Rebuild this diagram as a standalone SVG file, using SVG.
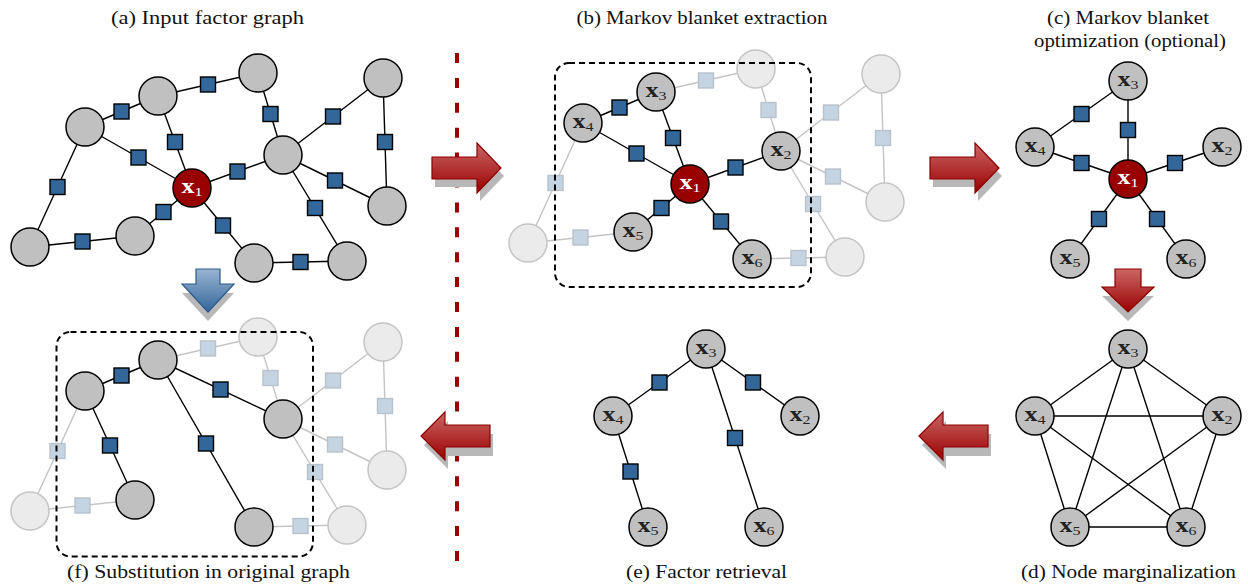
<svg xmlns="http://www.w3.org/2000/svg" width="1248" height="585" viewBox="0 0 1248 585">
<style>
.e{stroke:#000;stroke-width:1.4;fill:none}
.ef{stroke:#c4c4c4;stroke-width:1.4;fill:none}
.n{fill:#c0c0c0;stroke:#000;stroke-width:1.5}
.nr{fill:#990000;stroke:#000;stroke-width:1.5}
.nf{fill:#ebebeb;stroke:#c4c4c4;stroke-width:1.5}
.f{fill:#336699;stroke:#000;stroke-width:1.4}
.ff{fill:#c5d4e2;stroke:#b8c2cc;stroke-width:1.4}
.lbl{font-family:"Liberation Serif",serif;font-weight:bold;font-size:21px;text-anchor:middle;fill:#222}
.lw{fill:#fff}
.sub{font-size:13px;font-weight:normal}
.title{font-family:"Liberation Serif",serif;font-size:18px;text-anchor:middle;fill:#111}
.box{fill:none;stroke:#000;stroke-width:2;stroke-dasharray:6 4}
.sh{fill:#b8b8b8}
.ar{fill:url(#gr);stroke:#8b0000;stroke-width:1.2}
.ab{fill:url(#gb);stroke:#2d5a8a;stroke-width:1.2}
</style>
<defs>
<linearGradient id="gr" x1="0" y1="0" x2="0" y2="1"><stop offset="0" stop-color="#cc6666"/><stop offset="1" stop-color="#990000"/></linearGradient>
<linearGradient id="gb" x1="0" y1="0" x2="0" y2="1"><stop offset="0" stop-color="#9ab4d2"/><stop offset="1" stop-color="#33669a"/></linearGradient>
</defs>
<rect width="1248" height="585" fill="#fff"/>

<!-- titles -->
<text class="title" x="207.5" y="24" textLength="193" lengthAdjust="spacingAndGlyphs">(a) Input factor graph</text>
<text class="title" x="702" y="24" textLength="251" lengthAdjust="spacingAndGlyphs">(b) Markov blanket extraction</text>
<text class="title" x="1128" y="24" textLength="162" lengthAdjust="spacingAndGlyphs">(c) Markov blanket</text>
<text class="title" x="1130" y="47" textLength="192" lengthAdjust="spacingAndGlyphs">optimization (optional)</text>
<text class="title" x="1128.5" y="578" textLength="215" lengthAdjust="spacingAndGlyphs">(d) Node marginalization</text>
<text class="title" x="706.5" y="578" textLength="161" lengthAdjust="spacingAndGlyphs">(e) Factor retrieval</text>
<text class="title" x="208.5" y="578" textLength="283" lengthAdjust="spacingAndGlyphs">(f) Substitution in original graph</text>

<!-- separator -->
<line x1="457" y1="53" x2="457" y2="561" stroke="#990000" stroke-width="4" stroke-dasharray="10 14.9"/>

<!-- connectors -->
<g id="connectors">
 <g id="conn-a">
  <line class="e" x1="85" y1="127" x2="158" y2="96"/>
  <line class="e" x1="158" y1="96" x2="258" y2="73"/>
  <line class="e" x1="258" y1="73" x2="283" y2="155"/>
  <line class="e" x1="383" y1="78" x2="283" y2="155"/>
  <line class="e" x1="383" y1="78" x2="387" y2="206"/>
  <line class="e" x1="283" y1="155" x2="387" y2="206"/>
  <line class="e" x1="283" y1="155" x2="347" y2="261"/>
  <line class="e" x1="158" y1="96" x2="192" y2="188"/>
  <line class="e" x1="85" y1="127" x2="192" y2="188"/>
  <line class="e" x1="192" y1="188" x2="283" y2="155"/>
  <line class="e" x1="85" y1="127" x2="30" y2="247"/>
  <line class="e" x1="30" y1="247" x2="135" y2="236"/>
  <line class="e" x1="135" y1="236" x2="192" y2="188"/>
  <line class="e" x1="192" y1="188" x2="254" y2="263"/>
  <line class="e" x1="254" y1="263" x2="347" y2="261"/>
 </g>
 <g id="conn-b" transform="translate(498,-4)">
  <line class="ef" x1="158" y1="96" x2="258" y2="73"/>
  <line class="ef" x1="258" y1="73" x2="283" y2="155"/>
  <line class="ef" x1="383" y1="78" x2="283" y2="155"/>
  <line class="ef" x1="383" y1="78" x2="387" y2="206"/>
  <line class="ef" x1="283" y1="155" x2="387" y2="206"/>
  <line class="ef" x1="283" y1="155" x2="347" y2="261"/>
  <line class="ef" x1="85" y1="127" x2="30" y2="247"/>
  <line class="ef" x1="30" y1="247" x2="135" y2="236"/>
  <line class="ef" x1="254" y1="263" x2="347" y2="261"/>
  <line class="e" x1="85" y1="127" x2="158" y2="96"/>
  <line class="e" x1="158" y1="96" x2="192" y2="188"/>
  <line class="e" x1="85" y1="127" x2="192" y2="188"/>
  <line class="e" x1="192" y1="188" x2="283" y2="155"/>
  <line class="e" x1="135" y1="236" x2="192" y2="188"/>
  <line class="e" x1="192" y1="188" x2="254" y2="263"/>
 </g>
 <g id="conn-f" transform="translate(0,264)">
  <line class="ef" x1="158" y1="96" x2="258" y2="73"/>
  <line class="ef" x1="258" y1="73" x2="283" y2="155"/>
  <line class="ef" x1="383" y1="78" x2="283" y2="155"/>
  <line class="ef" x1="383" y1="78" x2="387" y2="206"/>
  <line class="ef" x1="283" y1="155" x2="387" y2="206"/>
  <line class="ef" x1="283" y1="155" x2="347" y2="261"/>
  <line class="ef" x1="85" y1="127" x2="30" y2="247"/>
  <line class="ef" x1="30" y1="247" x2="135" y2="236"/>
  <line class="ef" x1="254" y1="263" x2="347" y2="261"/>
  <line class="e" x1="85" y1="127" x2="158" y2="96"/>
  <line class="e" x1="85" y1="127" x2="135" y2="236"/>
  <line class="e" x1="158" y1="96" x2="254" y2="263"/>
  <line class="e" x1="158" y1="96" x2="283" y2="155"/>
 </g>
 <g id="conn-c">
  <line class="e" x1="1035" y1="147" x2="1128" y2="81"/>
  <line class="e" x1="1128" y1="81" x2="1128" y2="179"/>
  <line class="e" x1="1035" y1="147" x2="1128" y2="179"/>
  <line class="e" x1="1222" y1="147" x2="1128" y2="179"/>
  <line class="e" x1="1070" y1="259" x2="1128" y2="179"/>
  <line class="e" x1="1186" y1="259" x2="1128" y2="179"/>
 </g>
 <g id="conn-d">
  <line class="e" x1="1128" y1="349" x2="1035" y2="416"/>
  <line class="e" x1="1128" y1="349" x2="1222" y2="416"/>
  <line class="e" x1="1128" y1="349" x2="1070" y2="527"/>
  <line class="e" x1="1128" y1="349" x2="1186" y2="527"/>
  <line class="e" x1="1035" y1="416" x2="1222" y2="416"/>
  <line class="e" x1="1035" y1="416" x2="1070" y2="527"/>
  <line class="e" x1="1035" y1="416" x2="1186" y2="527"/>
  <line class="e" x1="1222" y1="416" x2="1070" y2="527"/>
  <line class="e" x1="1222" y1="416" x2="1186" y2="527"/>
  <line class="e" x1="1070" y1="527" x2="1186" y2="527"/>
 </g>
 <g id="conn-e">
  <line class="e" x1="706" y1="349" x2="613" y2="416"/>
  <line class="e" x1="706" y1="349" x2="800" y2="416"/>
  <line class="e" x1="706" y1="349" x2="764" y2="527"/>
  <line class="e" x1="613" y1="416" x2="648" y2="527"/>
 </g>
</g>

<!-- panel (a) -->
<g id="panel-a">
 <g id="a-factors">
  <rect id="a-f1" class="f" x="114" y="104" width="15" height="15"/>
  <rect id="a-f2" class="f" x="200.5" y="77" width="15" height="15"/>
  <rect id="a-f3" class="f" x="263" y="106.5" width="15" height="15"/>
  <rect id="a-f4" class="f" x="325.5" y="109" width="15" height="15"/>
  <rect id="a-f5" class="f" x="377.5" y="134.5" width="15" height="15"/>
  <rect id="a-f6" class="f" x="327.5" y="173" width="15" height="15"/>
  <rect id="a-f7" class="f" x="307.5" y="200.5" width="15" height="15"/>
  <rect id="a-f8" class="f" x="167.5" y="134.5" width="15" height="15"/>
  <rect id="a-f9" class="f" x="131" y="150" width="15" height="15"/>
  <rect id="a-f10" class="f" x="230" y="164" width="15" height="15"/>
  <rect id="a-f11" class="f" x="50" y="179.5" width="15" height="15"/>
  <rect id="a-f12" class="f" x="75" y="234" width="15" height="15"/>
  <rect id="a-f13" class="f" x="156" y="204.5" width="15" height="15"/>
  <rect id="a-f14" class="f" x="215.5" y="218" width="15" height="15"/>
  <rect id="a-f15" class="f" x="293" y="254.5" width="15" height="15"/>
 </g>
 <g id="a-n1"><circle class="n" cx="85" cy="127" r="19"/></g>
 <g id="a-n2"><circle class="n" cx="158" cy="96" r="19"/></g>
 <g id="a-n3"><circle class="n" cx="258" cy="73" r="19"/></g>
 <g id="a-n4"><circle class="n" cx="383" cy="78" r="19"/></g>
 <g id="a-n5"><circle class="n" cx="283" cy="155" r="19"/></g>
 <g id="a-n6"><circle class="n" cx="387" cy="206" r="19"/></g>
 <g id="a-n7"><circle class="n" cx="30" cy="247" r="19"/></g>
 <g id="a-n8"><circle class="n" cx="135" cy="236" r="19"/></g>
 <g id="a-n9"><circle class="n" cx="254" cy="263" r="19"/></g>
 <g id="a-n10"><circle class="n" cx="347" cy="261" r="19"/></g>
 <g id="a-x1"><circle class="nr" cx="192" cy="188" r="19"/><text class="lbl lw" x="192" y="193" textLength="21" lengthAdjust="spacingAndGlyphs">x<tspan class="sub" dy="3">1</tspan></text></g>
</g>

<!-- panel (b) -->
<g id="panel-b" transform="translate(498,-4)">
 <g id="b-factors">
  <rect id="b-f2" class="ff" x="200.5" y="77" width="15" height="15"/>
  <rect id="b-f3" class="ff" x="263" y="106.5" width="15" height="15"/>
  <rect id="b-f4" class="ff" x="325.5" y="109" width="15" height="15"/>
  <rect id="b-f5" class="ff" x="377.5" y="134.5" width="15" height="15"/>
  <rect id="b-f6" class="ff" x="327.5" y="173" width="15" height="15"/>
  <rect id="b-f7" class="ff" x="307.5" y="200.5" width="15" height="15"/>
  <rect id="b-f11" class="ff" x="50" y="179.5" width="15" height="15"/>
  <rect id="b-f12" class="ff" x="75" y="234" width="15" height="15"/>
  <rect id="b-f15" class="ff" x="293" y="254.5" width="15" height="15"/>
  <rect id="b-f1" class="f" x="114" y="104" width="15" height="15"/>
  <rect id="b-f8" class="f" x="167.5" y="134.5" width="15" height="15"/>
  <rect id="b-f9" class="f" x="131" y="150" width="15" height="15"/>
  <rect id="b-f10" class="f" x="230" y="164" width="15" height="15"/>
  <rect id="b-f13" class="f" x="156" y="204.5" width="15" height="15"/>
  <rect id="b-f14" class="f" x="215.5" y="218" width="15" height="15"/>
 </g>
 <g id="b-n3"><circle class="nf" cx="258" cy="73" r="19"/></g>
 <g id="b-n4"><circle class="nf" cx="383" cy="78" r="19"/></g>
 <g id="b-n6"><circle class="nf" cx="387" cy="206" r="19"/></g>
 <g id="b-n7"><circle class="nf" cx="30" cy="247" r="19"/></g>
 <g id="b-n10"><circle class="nf" cx="347" cy="261" r="19"/></g>
 <g id="b-x4"><circle class="n" cx="85" cy="127" r="19"/><text class="lbl" x="85" y="132" textLength="21" lengthAdjust="spacingAndGlyphs">x<tspan class="sub" dy="3">4</tspan></text></g>
 <g id="b-x3"><circle class="n" cx="158" cy="96" r="19"/><text class="lbl" x="158" y="101" textLength="21" lengthAdjust="spacingAndGlyphs">x<tspan class="sub" dy="3">3</tspan></text></g>
 <g id="b-x2"><circle class="n" cx="283" cy="155" r="19"/><text class="lbl" x="283" y="160" textLength="21" lengthAdjust="spacingAndGlyphs">x<tspan class="sub" dy="3">2</tspan></text></g>
 <g id="b-x5"><circle class="n" cx="135" cy="236" r="19"/><text class="lbl" x="135" y="241" textLength="21" lengthAdjust="spacingAndGlyphs">x<tspan class="sub" dy="3">5</tspan></text></g>
 <g id="b-x6"><circle class="n" cx="254" cy="263" r="19"/><text class="lbl" x="254" y="268" textLength="21" lengthAdjust="spacingAndGlyphs">x<tspan class="sub" dy="3">6</tspan></text></g>
 <g id="b-x1"><circle class="nr" cx="192" cy="188" r="19"/><text class="lbl lw" x="192" y="193" textLength="21" lengthAdjust="spacingAndGlyphs">x<tspan class="sub" dy="3">1</tspan></text></g>
 <rect id="b-blanket" class="box" x="57" y="67" width="256" height="224" rx="14"/>
</g>

<!-- panel (f) -->
<g id="panel-f" transform="translate(0,264)">
 <g id="f-factors">
  <rect id="f-f2" class="ff" x="200.5" y="77" width="15" height="15"/>
  <rect id="f-f3" class="ff" x="263" y="106.5" width="15" height="15"/>
  <rect id="f-f4" class="ff" x="325.5" y="109" width="15" height="15"/>
  <rect id="f-f5" class="ff" x="377.5" y="134.5" width="15" height="15"/>
  <rect id="f-f6" class="ff" x="327.5" y="173" width="15" height="15"/>
  <rect id="f-f7" class="ff" x="307.5" y="200.5" width="15" height="15"/>
  <rect id="f-f11" class="ff" x="50" y="179.5" width="15" height="15"/>
  <rect id="f-f12" class="ff" x="75" y="234" width="15" height="15"/>
  <rect id="f-f15" class="ff" x="293" y="254.5" width="15" height="15"/>
  <rect id="f-f1" class="f" x="114" y="104" width="15" height="15"/>
  <rect id="f-g1" class="f" x="102.5" y="174" width="15" height="15"/>
  <rect id="f-g2" class="f" x="198.5" y="172" width="15" height="15"/>
  <rect id="f-g3" class="f" x="213" y="118" width="15" height="15"/>
 </g>
 <g id="f-n3"><circle class="nf" cx="258" cy="73" r="19"/></g>
 <g id="f-n4"><circle class="nf" cx="383" cy="78" r="19"/></g>
 <g id="f-n6"><circle class="nf" cx="387" cy="206" r="19"/></g>
 <g id="f-n7"><circle class="nf" cx="30" cy="247" r="19"/></g>
 <g id="f-n10"><circle class="nf" cx="347" cy="261" r="19"/></g>
 <g id="f-n1"><circle class="n" cx="85" cy="127" r="19"/></g>
 <g id="f-n2"><circle class="n" cx="158" cy="96" r="19"/></g>
 <g id="f-n5"><circle class="n" cx="283" cy="155" r="19"/></g>
 <g id="f-n8"><circle class="n" cx="135" cy="236" r="19"/></g>
 <g id="f-n9"><circle class="n" cx="254" cy="263" r="19"/></g>
 <rect id="f-blanket" class="box" x="56.5" y="68" width="256.5" height="224.5" rx="14"/>
</g>

<!-- panel (c) -->
<g id="panel-c">
 <g id="c-factors">
  <rect id="c-f1" class="f" x="1074" y="106.5" width="15" height="15"/>
  <rect id="c-f2" class="f" x="1120.5" y="122.5" width="15" height="15"/>
  <rect id="c-f3" class="f" x="1074" y="155.5" width="15" height="15"/>
  <rect id="c-f4" class="f" x="1167.5" y="155.5" width="15" height="15"/>
  <rect id="c-f5" class="f" x="1091.5" y="211.5" width="15" height="15"/>
  <rect id="c-f6" class="f" x="1149.5" y="211.5" width="15" height="15"/>
 </g>
 <g id="c-x3"><circle class="n" cx="1128" cy="81" r="19"/><text class="lbl" x="1128" y="86" textLength="21" lengthAdjust="spacingAndGlyphs">x<tspan class="sub" dy="3">3</tspan></text></g>
 <g id="c-x4"><circle class="n" cx="1035" cy="147" r="19"/><text class="lbl" x="1035" y="152" textLength="21" lengthAdjust="spacingAndGlyphs">x<tspan class="sub" dy="3">4</tspan></text></g>
 <g id="c-x2"><circle class="n" cx="1222" cy="147" r="19"/><text class="lbl" x="1222" y="152" textLength="21" lengthAdjust="spacingAndGlyphs">x<tspan class="sub" dy="3">2</tspan></text></g>
 <g id="c-x5"><circle class="n" cx="1070" cy="259" r="19"/><text class="lbl" x="1070" y="264" textLength="21" lengthAdjust="spacingAndGlyphs">x<tspan class="sub" dy="3">5</tspan></text></g>
 <g id="c-x6"><circle class="n" cx="1186" cy="259" r="19"/><text class="lbl" x="1186" y="264" textLength="21" lengthAdjust="spacingAndGlyphs">x<tspan class="sub" dy="3">6</tspan></text></g>
 <g id="c-x1"><circle class="nr" cx="1128" cy="179" r="19"/><text class="lbl lw" x="1128" y="184" textLength="21" lengthAdjust="spacingAndGlyphs">x<tspan class="sub" dy="3">1</tspan></text></g>
</g>

<!-- panel (d) -->
<g id="panel-d">
 <g id="d-x3"><circle class="n" cx="1128" cy="349" r="19"/><text class="lbl" x="1128" y="354" textLength="21" lengthAdjust="spacingAndGlyphs">x<tspan class="sub" dy="3">3</tspan></text></g>
 <g id="d-x4"><circle class="n" cx="1035" cy="416" r="19"/><text class="lbl" x="1035" y="421" textLength="21" lengthAdjust="spacingAndGlyphs">x<tspan class="sub" dy="3">4</tspan></text></g>
 <g id="d-x2"><circle class="n" cx="1222" cy="416" r="19"/><text class="lbl" x="1222" y="421" textLength="21" lengthAdjust="spacingAndGlyphs">x<tspan class="sub" dy="3">2</tspan></text></g>
 <g id="d-x5"><circle class="n" cx="1070" cy="527" r="19"/><text class="lbl" x="1070" y="532" textLength="21" lengthAdjust="spacingAndGlyphs">x<tspan class="sub" dy="3">5</tspan></text></g>
 <g id="d-x6"><circle class="n" cx="1186" cy="527" r="19"/><text class="lbl" x="1186" y="532" textLength="21" lengthAdjust="spacingAndGlyphs">x<tspan class="sub" dy="3">6</tspan></text></g>
</g>

<!-- panel (e) -->
<g id="panel-e">
 <g id="e-factors">
  <rect id="e-f1" class="f" x="652" y="375" width="15" height="15"/>
  <rect id="e-f2" class="f" x="745.5" y="375" width="15" height="15"/>
  <rect id="e-f3" class="f" x="727.5" y="430.5" width="15" height="15"/>
  <rect id="e-f4" class="f" x="623" y="464" width="15" height="15"/>
 </g>
 <g id="e-x3"><circle class="n" cx="706" cy="349" r="19"/><text class="lbl" x="706" y="354" textLength="21" lengthAdjust="spacingAndGlyphs">x<tspan class="sub" dy="3">3</tspan></text></g>
 <g id="e-x4"><circle class="n" cx="613" cy="416" r="19"/><text class="lbl" x="613" y="421" textLength="21" lengthAdjust="spacingAndGlyphs">x<tspan class="sub" dy="3">4</tspan></text></g>
 <g id="e-x2"><circle class="n" cx="800" cy="416" r="19"/><text class="lbl" x="800" y="421" textLength="21" lengthAdjust="spacingAndGlyphs">x<tspan class="sub" dy="3">2</tspan></text></g>
 <g id="e-x5"><circle class="n" cx="648" cy="527" r="19"/><text class="lbl" x="648" y="532" textLength="21" lengthAdjust="spacingAndGlyphs">x<tspan class="sub" dy="3">5</tspan></text></g>
 <g id="e-x6"><circle class="n" cx="764" cy="527" r="19"/><text class="lbl" x="764" y="532" textLength="21" lengthAdjust="spacingAndGlyphs">x<tspan class="sub" dy="3">6</tspan></text></g>
</g>

<!-- process arrows -->
<g id="arrow-ab">
 <polygon class="sh" transform="translate(3,8)" points="432,157 477,157 477,143 501,168 477,193 477,179 432,179"/>
 <polygon class="ar" points="432,157 477,157 477,143 501,168 477,193 477,179 432,179"/>
</g>
<g id="arrow-bc">
 <polygon class="sh" transform="translate(3,8)" points="930,157 975,157 975,143 999,168 975,193 975,179 930,179"/>
 <polygon class="ar" points="930,157 975,157 975,143 999,168 975,193 975,179 930,179"/>
</g>
<g id="arrow-cd">
 <polygon class="sh" transform="translate(0,9)" points="1115,269 1141,269 1141,287 1154,287 1128,312 1102,287 1115,287"/>
 <polygon class="ar" points="1115,269 1141,269 1141,287 1154,287 1128,312 1102,287 1115,287"/>
</g>
<g id="arrow-de">
 <polygon class="sh" transform="translate(3,9)" points="988,425 943,425 943,412 919,436 943,460 943,447 988,447"/>
 <polygon class="ar" points="988,425 943,425 943,412 919,436 943,460 943,447 988,447"/>
</g>
<g id="arrow-ef">
 <polygon class="sh" transform="translate(3,9)" points="490,425 445,425 445,412 421,436 445,460 445,447 490,447"/>
 <polygon class="ar" points="490,425 445,425 445,412 421,436 445,460 445,447 490,447"/>
</g>
<g id="arrow-af">
 <polygon class="sh" transform="translate(0,9)" points="196,269 220,269 220,284 234,284 208,312 182,284 196,284"/>
 <polygon class="ab" points="196,269 220,269 220,284 234,284 208,312 182,284 196,284"/>
</g>
</svg>
